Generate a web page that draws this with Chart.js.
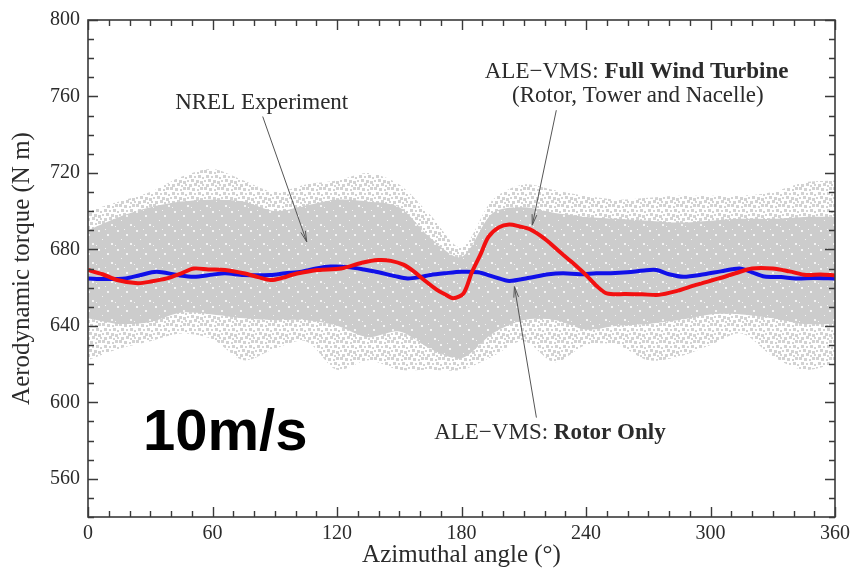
<!DOCTYPE html>
<html>
<head>
<meta charset="utf-8">
<script src="https://cdn.jsdelivr.net/npm/chart.js@4.4.1/dist/chart.umd.min.js"></script>
<style>
    html, body { margin: 0; padding: 0; background: #fff; }
    #wrap { width: 855px; height: 570px; }
</style>
</head>
<body>
<div id="wrap"><canvas id="chart" width="855" height="570"></canvas></div>
<script>
// NREL experiment cloud, read as envelopes (azimuth in degrees, torque in N m)
const bandAngles     = [0, 15, 30, 45, 60, 75, 90, 105, 120, 135, 150, 165, 180, 195, 210, 225, 240, 255, 270, 285, 300, 315, 330, 345, 360];
const expOuterTop    = [700, 705, 710, 718, 722, 716, 710, 714, 716, 720, 714, 698, 681, 706, 714, 711, 708, 706, 707, 708, 708, 708, 710, 715, 716];
const expCoreTop     = [690, 697, 702, 705, 706, 705, 700, 703, 706, 705, 702, 686, 676, 699, 702, 699, 697, 696, 695, 694, 695, 696, 696, 697, 697];
const expCoreBottom  = [644, 641, 642, 647, 646, 644, 643, 643, 640, 634, 637, 628, 623, 636, 643, 643, 638, 640, 641, 643, 646, 646, 644, 641, 641];
const expOuterBottom = [622, 628, 632, 636, 633, 622, 628, 632, 617, 622, 617, 617, 617, 624, 632, 621, 630, 630, 622, 624, 630, 636, 624, 617, 620];

// ALE-VMS: rotor only
const rotorAngles = [0, 8, 18, 25, 33, 43, 51, 60, 66, 75, 88, 95, 103, 110, 117, 125, 133, 140, 148, 154, 160, 165, 172, 180, 188, 196, 203, 212, 222, 229, 237, 245, 252, 260, 268, 274, 280, 287, 297, 305, 314, 320, 326, 334, 341, 350, 360];
const rotorTorque = [664.8, 664.5, 664.8, 666.5, 668.3, 666.6, 665.7, 666.8, 667.5, 666.6, 666.6, 667.5, 668.3, 670, 671, 670.8, 669.5, 668, 666, 664.8, 665.5, 666.6, 667.5, 668.3, 668, 665.5, 663.5, 665, 667, 667.5, 667, 667.5, 667.5, 668, 669, 669.2, 667, 665.7, 667, 668.5, 670, 668, 665.8, 665.5, 664.8, 665, 664.8];

// ALE-VMS: full wind turbine (rotor, tower and nacelle)
const fullAngles = [0, 7, 14, 24, 31, 38, 45, 51, 58, 66, 75, 82, 88, 94, 98, 104, 111, 122, 132, 140, 146, 152, 157, 162, 168, 172, 176, 181, 185, 189, 193, 198, 203, 208, 213, 220, 227, 233, 240, 245, 250, 259, 267, 275, 283, 293, 304, 312, 320, 330, 338, 346, 353, 360];
const fullTorque = [669.2, 667, 664, 662.3, 663.3, 664.8, 667.5, 670, 669.5, 669.2, 667.5, 665.5, 664, 665.2, 666.6, 668, 669.2, 670, 673, 674.4, 674, 672, 668.5, 664, 659, 656.5, 654.5, 657, 668, 677, 686.5, 691.5, 693, 692, 690.5, 685.6, 679, 673.5, 666.6, 661, 657, 656.6, 656.5, 656.2, 658, 661.4, 664.8, 667.5, 670, 670, 668.5, 666.6, 666.8, 666.4];

const xTickLabels = [0, 60, 120, 180, 240, 300, 360];
const yTickLabels = [560, 600, 640, 680, 720, 760, 800];

const SERIF = "'Liberation Serif', 'DejaVu Serif', serif";
const INK = "#2b2b2b";

const pts = (xs, ys) => xs.map((x, i) => ({ x: x, y: ys[i] }));

// texture tiles for the scattered experimental points
function texture(ctx, base, dot, spots, size) {
    const tile = document.createElement("canvas");
    tile.width = size; tile.height = size;
    const g = tile.getContext("2d");
    if (base) { g.fillStyle = base; g.fillRect(0, 0, size, size); }
    g.fillStyle = dot;
    spots.forEach(([x, y, w]) => g.fillRect(x, y, w, w));
    return ctx.createPattern(tile, "repeat");
}

// inward ticks on all four sides plus the frame
const framePlugin = {
    id: "frame",
    afterDatasetsDraw(chart) {
        const { ctx, chartArea: a, scales: { x, y } } = chart;
        ctx.save();
        ctx.strokeStyle = "#3a3a3a";
        ctx.lineWidth = 1.4;
        ctx.beginPath();
        for (let v = 0; v <= 360; v += 10) {
            const px = Math.round(x.getPixelForValue(v)) + 0.5;
            const len = v % 60 === 0 ? 10 : 6;
            ctx.moveTo(px, a.bottom); ctx.lineTo(px, a.bottom - len);
            ctx.moveTo(px, a.top); ctx.lineTo(px, a.top + len);
        }
        for (let v = 540; v <= 800; v += 10) {
            const py = Math.round(y.getPixelForValue(v)) + 0.5;
            const len = (v - 560) % 40 === 0 ? 10 : 6;
            ctx.moveTo(a.left, py); ctx.lineTo(a.left + len, py);
            ctx.moveTo(a.right, py); ctx.lineTo(a.right - len, py);
        }
        ctx.stroke();
        ctx.lineWidth = 1.6;
        ctx.strokeRect(a.left, a.top, a.right - a.left, a.bottom - a.top);
        ctx.restore();
    }
};

// callouts, placed in data units
const notes = [
    { parts: [["NREL Experiment", false]], at: [83.7, 756.5], from: [84.2, 749.5], to: [105.4, 684] },
    { parts: [["ALE\u2212VMS: ", false], ["Full Wind Turbine", true]], at: [264.4, 773], from: [225.7, 752.8], to: [214.1, 692.7] },
    { parts: [["(Rotor, Tower and Nacelle)", false]], at: [265, 760.3] },
    { parts: [["ALE\u2212VMS: ", false], ["Rotor Only", true]], at: [222.6, 583.8], from: [216.1, 592], to: [205.5, 660.5] }
];

function arrow(ctx, x0, y0, x1, y1) {
    const ang = Math.atan2(y1 - y0, x1 - x0);
    ctx.beginPath();
    ctx.moveTo(x0, y0); ctx.lineTo(x1, y1);
    ctx.moveTo(x1 - 11 * Math.cos(ang - 0.22), y1 - 11 * Math.sin(ang - 0.22));
    ctx.lineTo(x1, y1);
    ctx.lineTo(x1 - 11 * Math.cos(ang + 0.22), y1 - 11 * Math.sin(ang + 0.22));
    ctx.stroke();
}

const notesPlugin = {
    id: "notes",
    afterDraw(chart) {
        const { ctx, scales: { x, y } } = chart;
        ctx.save();
        ctx.fillStyle = INK;
        ctx.textBaseline = "middle";
        notes.forEach(n => {
            const widths = n.parts.map(([t, b]) => {
                ctx.font = (b ? "bold " : "") + "23px " + SERIF;
                return ctx.measureText(t).width;
            });
            let cx = x.getPixelForValue(n.at[0]) - widths.reduce((s, w) => s + w, 0) / 2;
            const cy = y.getPixelForValue(n.at[1]);
            n.parts.forEach(([t, b], i) => {
                ctx.font = (b ? "bold " : "") + "23px " + SERIF;
                ctx.textAlign = "left";
                ctx.fillText(t, cx, cy);
                cx += widths[i];
            });
            if (n.from) {
                ctx.strokeStyle = "#555";
                ctx.lineWidth = 1;
                arrow(ctx, x.getPixelForValue(n.from[0]), y.getPixelForValue(n.from[1]),
                      x.getPixelForValue(n.to[0]), y.getPixelForValue(n.to[1]));
            }
        });
        // wind speed tag
        ctx.fillStyle = "#000";
        ctx.font = "bold 58px 'Liberation Sans', Arial, sans-serif";
        ctx.textAlign = "left";
        ctx.textBaseline = "alphabetic";
        ctx.fillText("10m/s", x.getPixelForValue(26.5), y.getPixelForValue(575.3));
        ctx.restore();
    }
};

const ctx = document.getElementById("chart").getContext("2d");
const band = { pointRadius: 0, borderWidth: 0, tension: 0.3, order: 5 };

const sparse = texture(ctx, null, "#d2d2d2",
    [[0, 0, 3], [5, 1, 3], [10, 2, 2], [13, 0, 3], [2, 5, 3], [7, 6, 2], [11, 5, 3], [15, 7, 2],
     [0, 10, 2], [4, 9, 3], [9, 10, 3], [13, 11, 3], [2, 14, 3], [7, 13, 3], [11, 15, 2], [15, 14, 2]], 17);
const dense = texture(ctx, "#cccccc", "#f4f4f4",
    [[3, 2, 2], [12, 6, 2], [7, 11, 1], [16, 15, 2], [1, 17, 1], [10, 1, 1]], 19);

new Chart(ctx, {
    type: "line",
    data: {
        datasets: [
            { ...band, label: "exp outer top", data: pts(bandAngles, expOuterTop), fill: 3, backgroundColor: sparse },
            { ...band, label: "exp core top", data: pts(bandAngles, expCoreTop), fill: 2, backgroundColor: dense, order: 4 },
            { ...band, label: "exp core bottom", data: pts(bandAngles, expCoreBottom), fill: false },
            { ...band, label: "exp outer bottom", data: pts(bandAngles, expOuterBottom), fill: false },
            {
                label: "ALE-VMS: Rotor Only", data: pts(rotorAngles, rotorTorque),
                borderColor: "#1010e8", borderWidth: 4, pointRadius: 0, tension: 0.3, fill: false, order: 1
            },
            {
                label: "ALE-VMS: Full Wind Turbine", data: pts(fullAngles, fullTorque),
                borderColor: "#f21010", borderWidth: 4, pointRadius: 0, tension: 0.3, fill: false, order: 0
            }
        ]
    },
    options: {
        responsive: false,
        animation: false,
        devicePixelRatio: 1,
        layout: { padding: { top: 16, right: 19, left: 0, bottom: 0 } },
        plugins: { legend: { display: false }, tooltip: { enabled: false } },
        scales: {
            x: {
                type: "linear", min: 0, max: 360,
                grid: { display: false, drawTicks: false },
                border: { display: false },
                afterFit: s => { s.height = 53; },
                afterBuildTicks: s => { s.ticks = xTickLabels.map(v => ({ value: v })); },
                ticks: { color: INK, padding: 5, autoSkip: false, maxRotation: 0, font: { family: SERIF, size: 20 } },
                title: { display: true, text: "Azimuthal angle (\u00b0)", color: INK, padding: { top: 0, bottom: 0 }, font: { family: SERIF, size: 25 } }
            },
            y: {
                type: "linear", min: 540, max: 800,
                grid: { display: false, drawTicks: false },
                border: { display: false },
                afterFit: s => { s.width = 88; },
                afterBuildTicks: s => { s.ticks = yTickLabels.map(v => ({ value: v })); },
                ticks: { color: INK, padding: 8, autoSkip: false, font: { family: SERIF, size: 20 } },
                title: { display: true, text: "Aerodynamic torque (N m)", color: INK, padding: { top: 7, bottom: 0 }, font: { family: SERIF, size: 25 } }
            }
        }
    },
    plugins: [framePlugin, notesPlugin]
});
</script>
</body>
</html>
